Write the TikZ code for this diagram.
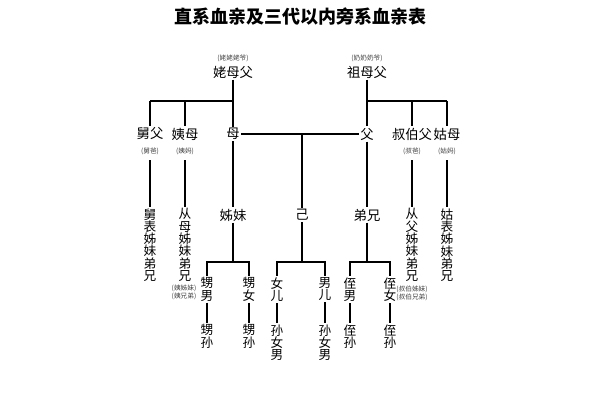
\documentclass[tikz,border=0pt]{standalone}
\usepackage{fontspec}
\setmainfont{Noto Sans CJK SC}
\usepackage{tikz}

\tikzset{
  kin/.style={inner sep=1pt, font=\fontsize{10}{11}\selectfont},
  col/.style={kin, anchor=north, align=center, font=\fontsize{9.5}{9.2}\selectfont},
  note/.style={inner sep=0pt, font=\fontsize{5}{6}\selectfont, text=black!75},
  tie/.style={line width=0.9pt}
}

\begin{document}
\begin{tikzpicture}[x=0.75pt, y=-0.75pt]
    \useasboundingbox (0, 0) rectangle (600, 400);

    \node at(300, 17){\fontsize{13.5}{15}\selectfont\bfseries 直系血亲及三代以内旁系血亲表};

    % grandparents
    \node[note] at(233, 58){(姥姥姥爷)};
    \node[kin] (lao) at(233, 72){姥母父};
    \node[note] at(367, 58){(奶奶奶爷)};
    \node[kin] (zu) at(367, 72){祖母父};

    % parents' generation
    \node[kin] (jiu) at(150, 134){舅父};
    \node[kin] (yi) at(185, 134){姨母};
    \node[kin] (mu) at(233, 134){母};
    \node[kin] (fu) at(367, 134){父};
    \node[kin] (shu) at(412, 134){叔伯父};
    \node[kin] (gu) at(447, 134){姑母};
    \node[note] at(150, 151){(舅爸)};
    \node[note] at(185, 151){(姨妈)};
    \node[note] at(412, 151){(叔爸)};
    \node[note] at(447, 151){(姑妈)};

    \coordinate (lh) at(150, 101);
    \coordinate (rh) at(447, 101);
    \draw[tie] (lao) -- (mu);
    \draw[tie] (lh) -- (233, 101);
    \draw[tie] (lh) -- (jiu);
    \draw[tie] (185, 101) -- (yi);
    \draw[tie] (zu) -- (fu);
    \draw[tie] (367, 101) -- (rh);
    \draw[tie] (412, 101) -- (shu);
    \draw[tie] (rh) -- (gu);
    \draw[tie] (mu) -- (fu);

    % own generation
    \node[col] (jiub) at(150, 207){舅\\表\\姊\\妹\\弟\\兄};
    \node[col] (yib) at(185, 207){从\\母\\姊\\妹\\弟\\兄};
    \node[kin] (zimei) at(233, 215){姊妹};
    \node[kin] (ji) at(302, 215){己};
    \node[kin] (dixiong) at(367, 215){弟兄};
    \node[col] (shub) at(412, 207){从\\父\\姊\\妹\\弟\\兄};
    \node[col] (gub) at(447, 207){姑\\表\\姊\\妹\\弟\\兄};
    \node[note] at(184, 288){(姨姊妹)};
    \node[note] at(184, 296){(姨兄弟)};
    \node[note] at(412, 289){(叔伯姊妹)};
    \node[note] at(412, 297){(叔伯兄弟)};

    \draw[tie] (150, 160) -- (jiub);
    \draw[tie] (185, 160) -- (yib);
    \draw[tie] (mu) -- (zimei);
    \draw[tie] (302, 134) -- (ji);
    \draw[tie] (fu) -- (dixiong);
    \draw[tie] (412, 160) -- (shub);
    \draw[tie] (447, 160) -- (gub);

    % children
    \node[col] (shengnan) at(207, 276){甥\\男};
    \node[col] (shengnv) at(249, 276){甥\\女};
    \node[col] (nver) at(277, 276){女\\儿};
    \node[col] (naner) at(325, 276){男\\儿};
    \node[col] (zhinan) at(350, 276){侄\\男};
    \node[col] (zhinv) at(390, 276){侄\\女};

    \draw[tie] (zimei) -- (233, 262);
    \draw[tie] (shengnan) |- (233, 262) -| (shengnv);
    \draw[tie] (ji) -- (302, 262);
    \draw[tie] (nver) |- (302, 262) -| (naner);
    \draw[tie] (dixiong) -- (367, 262);
    \draw[tie] (zhinan) |- (367, 262) -| (zhinv);

    % grandchildren
    \node[col] (shengsun1) at(207, 323){甥\\孙};
    \node[col] (shengsun2) at(249, 323){甥\\孙};
    \node[col] (sun1) at(277, 323){孙\\女\\男};
    \node[col] (sun2) at(325, 323){孙\\女\\男};
    \node[col] (zhisun1) at(350, 323){侄\\孙};
    \node[col] (zhisun2) at(390, 323){侄\\孙};

    \draw[tie] (shengnan) -- (shengsun1);
    \draw[tie] (shengnv) -- (shengsun2);
    \draw[tie] (nver) -- (sun1);
    \draw[tie] (naner) -- (sun2);
    \draw[tie] (zhinan) -- (zhisun1);
    \draw[tie] (zhinv) -- (zhisun2);

  \end{tikzpicture}
\end{document}
